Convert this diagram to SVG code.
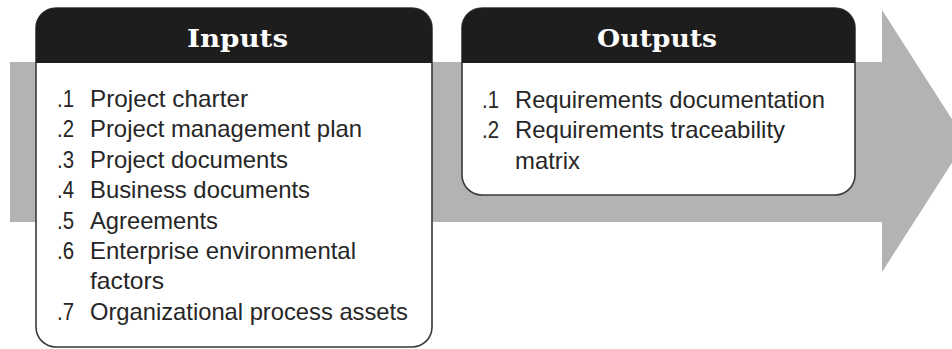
<svg xmlns="http://www.w3.org/2000/svg" width="952" height="349" viewBox="0 0 952 349">
<style>
.hd{font-family:"DejaVu Serif","Liberation Serif",serif;font-weight:bold;font-size:25px;fill:#ffffff;text-anchor:middle}
.tx{font-family:"Liberation Sans",Arial,sans-serif;font-size:24px;fill:#262626}
.box{fill:#ffffff;stroke:#3a3a3a;stroke-width:1.6}
.cap{fill:#1d1d1d}
</style>
<rect width="952" height="349" fill="#ffffff"/>
<g id="arrow">
<polygon points="10,62 882,62 882,10 966,141 882,272 882,222 10,222" fill="#b3b3b3"/>
</g>
<g id="inputs">
<path class="box" d="M56,8 H412 A20,20 0 0 1 432,28 V327 A20,20 0 0 1 412,347 H56 A20,20 0 0 1 36,327 V28 A20,20 0 0 1 56,8 Z"/>
<path class="cap" d="M56,8 H412 A20,20 0 0 1 432,28 V63 H36 V28 A20,20 0 0 1 56,8 Z"/>
<text class="hd" x="237.5" y="47" textLength="101" lengthAdjust="spacingAndGlyphs">Inputs</text>
<g class="tx">
<text x="57" y="107" textLength="17" lengthAdjust="spacingAndGlyphs">.1</text><text x="90" y="107" textLength="158" lengthAdjust="spacingAndGlyphs">Project charter</text>
<text x="57" y="137.4" textLength="17" lengthAdjust="spacingAndGlyphs">.2</text><text x="90" y="137.4" textLength="272" lengthAdjust="spacingAndGlyphs">Project management plan</text>
<text x="57" y="167.8" textLength="17" lengthAdjust="spacingAndGlyphs">.3</text><text x="90" y="167.8" textLength="198" lengthAdjust="spacingAndGlyphs">Project documents</text>
<text x="57" y="198.2" textLength="17" lengthAdjust="spacingAndGlyphs">.4</text><text x="90" y="198.2" textLength="220" lengthAdjust="spacingAndGlyphs">Business documents</text>
<text x="57" y="228.6" textLength="17" lengthAdjust="spacingAndGlyphs">.5</text><text x="90" y="228.6" textLength="128" lengthAdjust="spacingAndGlyphs">Agreements</text>
<text x="57" y="259" textLength="17" lengthAdjust="spacingAndGlyphs">.6</text><text x="90" y="259" textLength="266" lengthAdjust="spacingAndGlyphs">Enterprise environmental</text>
<text x="90" y="289.4" textLength="74" lengthAdjust="spacingAndGlyphs">factors</text>
<text x="57" y="319.8" textLength="17" lengthAdjust="spacingAndGlyphs">.7</text><text x="90" y="319.8" textLength="318" lengthAdjust="spacingAndGlyphs">Organizational process assets</text>
</g>
</g>
<g id="outputs">
<path class="box" d="M482,8 H835 A20,20 0 0 1 855,28 V175 A20,20 0 0 1 835,195 H482 A20,20 0 0 1 462,175 V28 A20,20 0 0 1 482,8 Z"/>
<path class="cap" d="M482,8 H835 A20,20 0 0 1 855,28 V63 H462 V28 A20,20 0 0 1 482,8 Z"/>
<text class="hd" x="657" y="47" textLength="120" lengthAdjust="spacingAndGlyphs">Outputs</text>
<g class="tx">
<text x="482" y="108" textLength="17" lengthAdjust="spacingAndGlyphs">.1</text><text x="515" y="108" textLength="310" lengthAdjust="spacingAndGlyphs">Requirements documentation</text>
<text x="482" y="138.4" textLength="17" lengthAdjust="spacingAndGlyphs">.2</text><text x="515" y="138.4" textLength="270" lengthAdjust="spacingAndGlyphs">Requirements traceability</text>
<text x="515" y="168.8" textLength="65" lengthAdjust="spacingAndGlyphs">matrix</text>
</g>
</g>
<g id="connectors"></g>
</svg>
